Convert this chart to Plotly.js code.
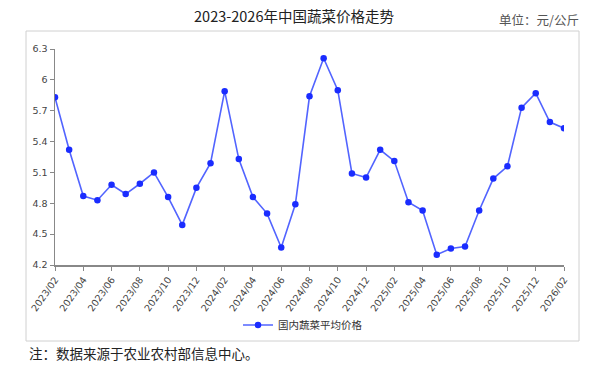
<!DOCTYPE html>
<html>
<head>
<meta charset="utf-8">
<script src="https://cdn.plot.ly/plotly-3.0.1.min.js"></script>
<style>
html,body{margin:0;padding:0;background:#fff;}
#chart{width:604px;height:367px;}
</style>
</head>
<body>
<div id="chart"></div>
<script>
var months = ["2023/02","2023/03","2023/04","2023/05","2023/06","2023/07","2023/08","2023/09","2023/10","2023/11","2023/12",
  "2024/01","2024/02","2024/03","2024/04","2024/05","2024/06","2024/07","2024/08","2024/09","2024/10","2024/11","2024/12",
  "2025/01","2025/02","2025/03","2025/04","2025/05","2025/06","2025/07","2025/08","2025/09","2025/10","2025/11","2025/12",
  "2026/01","2026/02"];
var prices = [5.83,5.32,4.87,4.83,4.98,4.89,4.99,5.10,4.86,4.59,4.95,
  5.19,5.89,5.23,4.86,4.70,4.37,4.79,5.84,6.21,5.90,5.09,5.05,
  5.32,5.21,4.81,4.73,4.30,4.36,4.38,4.73,5.04,5.16,5.73,5.87,
  5.59,5.53];
var xTickLabels = ["2023/02","2023/04","2023/06","2023/08","2023/10","2023/12","2024/02","2024/04","2024/06","2024/08",
  "2024/10","2024/12","2025/02","2025/04","2025/06","2025/08","2025/10","2025/12","2026/02"];
var yTicks = [4.2,4.5,4.8,5.1,5.4,5.7,6.0,6.3];
var yTickLabels = ["4.2","4.5","4.8","5.1","5.4","5.7","6","6.3"];
var seriesName = "国内蔬菜平均价格";

var cjk = '"Noto Sans CJK SC", "Noto Sans", sans-serif';
var W = 604, H = 367;
var L = 55, R = 40, T = 49, B = 102;
var pw = W - L - R, ph = H - T - B;
function px2x(p){ return (p - L) / pw; }
function py2y(p){ return (H - B - p) / ph; }

var trace = {
  type: 'scatter',
  mode: 'lines+markers',
  x: months,
  y: prices,
  name: seriesName,
  line: {color: '#5264ff', width: 1.6},
  marker: {color: '#1a2cff', size: 6.5}
};

var layout = {
  width: W, height: H,
  margin: {l: L, r: R, t: T, b: B},
  paper_bgcolor: '#fff', plot_bgcolor: '#fff',
  title: {
    text: '2023-2026年中国蔬菜价格走势',
    font: {family: cjk, size: 14.5, color: '#222', weight: 400},
    x: 294 / W, xanchor: 'center',
    y: 1 - 17 / H, yanchor: 'middle',
    xref: 'container', yref: 'container'
  },
  xaxis: {
    type: 'category',
    categoryorder: 'array', categoryarray: months,
    range: [0, months.length - 1],
    tickmode: 'array', tickvals: xTickLabels, ticktext: xTickLabels,
    tickangle: -55,
    ticks: 'outside', ticklen: 4, tickcolor: '#888', tickwidth: 1,
    showline: true, linecolor: '#888', linewidth: 1.5,
    showgrid: false, zeroline: false,
    tickfont: {family: '"DejaVu Sans", sans-serif', size: 9.5, color: '#444'}
  },
  yaxis: {
    range: [4.2, 6.3],
    tickmode: 'array', tickvals: yTicks, ticktext: yTickLabels,
    ticks: 'outside', ticklen: 4, tickcolor: '#888', tickwidth: 1,
    showline: true, linecolor: '#888', linewidth: 1.5,
    showgrid: false, zeroline: false,
    tickfont: {family: '"DejaVu Sans", sans-serif', size: 9.5, color: '#444'}
  },
  showlegend: true,
  legend: {
    orientation: 'h',
    x: px2x(238), xanchor: 'left',
    y: py2y(325), yanchor: 'middle',
    font: {family: cjk, size: 10.5, color: '#333'},
    itemwidth: 30,
    bgcolor: 'rgba(0,0,0,0)'
  },
  shapes: [{
    type: 'rect', xref: 'paper', yref: 'paper',
    x0: px2x(26), x1: px2x(579), y0: py2y(341), y1: py2y(31),
    line: {color: '#d0d0d0', width: 1}, fillcolor: 'rgba(0,0,0,0)', layer: 'below'
  }],
  annotations: [
    {
      text: '单位：元/公斤', xref: 'paper', yref: 'paper',
      x: px2x(581), xanchor: 'right', y: py2y(20), yanchor: 'middle',
      showarrow: false, font: {family: cjk, size: 12.5, color: '#555'}
    },
    {
      text: '注：数据来源于农业农村部信息中心。', xref: 'paper', yref: 'paper',
      x: px2x(27), xanchor: 'left', y: py2y(353), yanchor: 'middle',
      showarrow: false, font: {family: cjk, size: 13.5, color: '#222'}
    }
  ]
};

Plotly.newPlot('chart', [trace], layout, {displayModeBar: false, staticPlot: true});
</script>
</body>
</html>
